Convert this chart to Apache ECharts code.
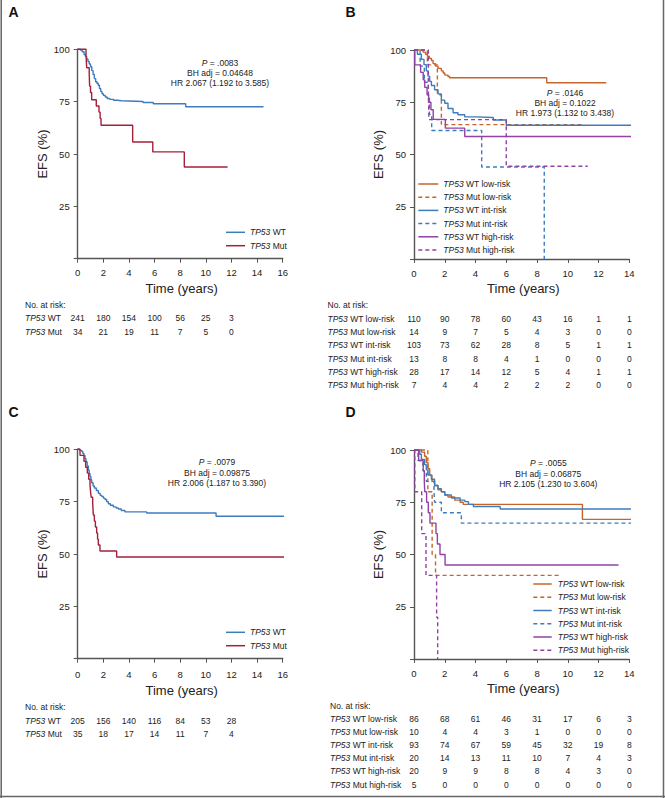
<!DOCTYPE html>
<html><head><meta charset="utf-8">
<script src="https://cdn.jsdelivr.net/npm/echarts@6/dist/echarts.min.js"></script>
<style>html,body{margin:0;padding:0;background:#fff}#c{width:665px;height:798px}</style>
</head><body><div id="c"></div>
<script>
// ---------------- DATA ----------------
const yTicks = [0, 25, 50, 75, 100];
const xTicksLeft = [0, 2, 4, 6, 8, 10, 12, 14, 16];
const xTicksRight = [0, 2, 4, 6, 8, 10, 12, 14];
const riskTimesLeft = [0, 2, 4, 6, 8, 10, 12];
const riskTimesRight = [0, 2, 4, 6, 8, 10, 12, 14];

// Panel A
const A_WT = [[0,100],[0.2,99.6],[0.35,98.8],[0.5,97.5],[0.6,96.6],[0.7,95.4],[0.8,94.2],[0.9,93],[1.0,91.7],[1.1,89.8],[1.2,88],[1.3,86],[1.4,84.5],[1.5,83.8],[1.6,82.8],[1.7,81.2],[1.8,79.8],[1.9,78.8],[2.0,78],[2.15,77.2],[2.3,76.5],[2.5,76.1],[2.8,75.7],[3.1,75.4],[3.4,75.1],[5.1,74.6],[5.9,74.0],[8.43,72.6],[14.5,72.6]];
const A_Mut = [[0,100],[0.65,97],[0.7,91.2],[0.9,88.2],[0.93,82.4],[1.0,79.4],[1.09,75.9],[1.45,72.9],[1.66,70],[1.75,67],[1.82,63.7],[4.29,55.7],[5.86,51],[8.32,43.8],[11.7,43.8]];
const A_risk_WT = [241, 180, 154, 100, 56, 25, 3];
const A_risk_Mut = [34, 21, 19, 11, 7, 5, 0];

// Panel B
const B_WT_low = [[0,100],[0.59,99],[0.75,98],[0.87,97],[1.0,96],[1.13,95],[1.24,93.5],[1.4,92.3],[1.56,91.2],[1.78,90],[1.9,89],[2.0,88],[2.21,87.3],[2.32,86.7],[8.63,84.3],[12.5,84.3]];
const B_Mut_low = [[0,100],[0.87,92.9],[1.52,78.6],[1.78,64.3],[11.0,64.3]];
const B_WT_int = [[0,100],[0.22,98],[0.48,95.5],[0.65,93],[0.8,90],[0.91,87.5],[1.02,85],[1.13,83],[1.34,81],[1.56,79],[1.78,76],[2.0,74.5],[2.21,72],[2.54,70],[2.86,69],[3.3,68],[4.0,67.7],[5.16,66.5],[6.0,64],[14.8,64]];
const B_Mut_int = [[0,100],[0.4,92.3],[0.67,84.6],[0.93,76.9],[1.0,69.2],[1.15,61.5],[4.4,44],[8.47,0]];
const B_WT_high = [[0,100],[0.05,92.9],[0.43,89.3],[0.6,85.7],[0.7,82.1],[0.85,78.6],[0.95,75],[1.1,71.4],[1.25,66.8],[2.04,62.6],[3.3,58.6],[14.7,58.6]];
const B_Mut_high = [[0,100],[0.93,83.3],[0.97,66.7],[6.0,44.4],[11.3,44.4]];
const B_risk = [
  [110, 90, 78, 60, 43, 16, 1, 1],
  [14, 9, 7, 5, 4, 3, 0, 0],
  [103, 73, 62, 28, 8, 5, 1, 1],
  [13, 8, 8, 4, 1, 0, 0, 0],
  [28, 17, 14, 12, 5, 4, 1, 1],
  [7, 4, 4, 2, 2, 2, 0, 0]
];

// Panel C
const C_WT = [[0,100],[0.15,99.5],[0.31,99],[0.4,98],[0.49,97],[0.57,95.5],[0.65,94],[0.74,92],[0.83,90],[0.9,88.5],[0.96,87],[1.03,85.5],[1.09,84],[1.2,82.5],[1.3,81.5],[1.45,80.3],[1.61,79],[1.75,78],[1.87,77.5],[2.0,76.7],[2.13,76],[2.26,75],[2.39,74],[2.55,73.3],[2.78,72.5],[3.0,72],[3.17,71.5],[3.4,70.8],[3.69,70.1],[5.38,69.6],[10.8,68],[16.6,68]];
const C_Mut = [[0,100],[0.18,97.1],[0.49,94.3],[0.62,91.4],[0.75,88.6],[0.86,85.7],[0.96,82.9],[1.0,80],[1.05,77.1],[1.17,74.3],[1.22,68.6],[1.3,65.7],[1.38,62.9],[1.48,60],[1.55,57.1],[1.61,54.3],[1.74,51.4],[3.04,48.6],[16.6,48.6]];
const C_risk_WT = [205, 156, 140, 116, 84, 53, 28];
const C_risk_Mut = [35, 18, 17, 14, 11, 7, 4];

// Panel D
const D_WT_low = [[0,100],[0.48,99],[0.69,97],[0.8,94],[0.91,91],[1.02,88],[1.17,85],[1.34,83],[1.56,81],[1.78,80],[2.0,78.5],[2.21,77.5],[2.65,76],[3.0,75],[3.2,74],[10.95,66.8],[14.4,66.8]];
const D_Mut_low = [[0,100],[0.9,80],[1.18,50],[1.4,40],[9.5,40]];
const D_WT_int = [[0,100],[0.37,98],[0.48,95.5],[0.69,93],[0.8,90.5],[0.91,88],[1.13,86],[1.34,83],[1.56,81.5],[1.78,80],[2.0,78.5],[2.43,77],[3.0,76],[3.3,75.3],[3.54,74],[3.86,73],[5.6,71.8],[14.4,71.8]];
const D_Mut_int = [[0,100],[0.26,95],[0.59,90],[0.8,85],[1.3,80],[1.34,75],[1.78,70],[3.08,65],[15.7,65]];
const D_WT_high = [[0,100],[0.3,95],[0.6,90],[0.67,85],[0.7,80],[0.82,75],[0.93,70],[1.04,65],[1.43,60],[1.52,55],[1.69,50],[2.02,45],[13.3,45]];
const D_Mut_high = [[0,100],[0.05,80],[0.5,60],[0.78,40],[1.47,20],[1.54,0]];
const D_risk = [
  [86, 68, 61, 46, 31, 17, 6, 3],
  [10, 4, 4, 3, 1, 0, 0, 0],
  [93, 74, 67, 59, 45, 32, 19, 8],
  [20, 14, 13, 11, 10, 7, 4, 3],
  [20, 9, 9, 8, 8, 4, 3, 0],
  [5, 0, 0, 0, 0, 0, 0, 0]
];

const twoGroupNames = ['WT', 'Mut'];
const sixGroupNames = ['WT low-risk', 'Mut low-risk', 'WT int-risk', 'Mut int-risk', 'WT high-risk', 'Mut high-risk'];
const statsA = ['.0083', '0.04648', 'HR 2.067 (1.192 to 3.585)'];
const statsB = ['.0146', '0.1022', 'HR 1.973 (1.132 to 3.438)'];
const statsC = ['.0079', '0.09875', 'HR 2.006 (1.187 to 3.390)'];
const statsD = ['.0055', '0.06875', 'HR 2.105 (1.230 to 3.604)'];

// ---------------- STYLE ----------------
const FONT = "'Liberation Sans', Arial, Helvetica, sans-serif";
const BLUE = '#3e7dbd', RED = '#a4213b', ORANGE = '#c6652b', PURPLE = '#9142a4';
const AX = '#555', TXT = '#222';
const DASH = [4, 3];

const grids = [
  {left: 77.7, top: 49.3, width: 205, height: 209.4},
  {left: 414, top: 50, width: 215.3, height: 209},
  {left: 77.7, top: 449.3, width: 205, height: 209.4},
  {left: 414, top: 450, width: 215.3, height: 209}
];
const xMax = [16, 14, 16, 14];
const xLabelMargin = [9, 9, 11, 9];

function xAxisCfg(i) {
  return {gridIndex: i, type: 'value', min: 0, max: xMax[i], interval: 2,
    axisLine: {show: true, onZero: false, lineStyle: {color: AX, width: 1.4}},
    axisTick: {show: true, length: 4, lineStyle: {color: AX, width: 1}},
    axisLabel: {fontSize: 9.5, color: TXT, margin: xLabelMargin[i], fontFamily: FONT},
    splitLine: {show: false}};
}
function yAxisCfg(i) {
  return {gridIndex: i, type: 'value', min: yTicks[0], max: yTicks[yTicks.length-1], interval: 25,
    axisLine: {show: true, onZero: false, lineStyle: {color: AX, width: 1.4}},
    axisTick: {show: true, length: 4, lineStyle: {color: AX, width: 1}},
    axisLabel: {fontSize: 9.5, color: TXT, margin: 8, fontFamily: FONT, formatter: v => v === 0 ? '' : String(v)},
    splitLine: {show: false}};
}
function km(name, data, i, color, dashed) {
  return {type: 'line', name: name, data: data, xAxisIndex: i, yAxisIndex: i, step: 'end',
    symbol: 'none', showSymbol: false, clip: false, silent: true, animation: false,
    lineStyle: {color: color, width: 1.4, type: dashed ? DASH : 'solid'}, itemStyle: {color: color}};
}

const series = [
  km('A WT', A_WT, 0, BLUE, false),
  km('A Mut', A_Mut, 0, RED, false),
  km('B WT low', B_WT_low, 1, ORANGE, false),
  km('B Mut low', B_Mut_low, 1, ORANGE, true),
  km('B WT int', B_WT_int, 1, BLUE, false),
  km('B Mut int', B_Mut_int, 1, BLUE, true),
  km('B WT high', B_WT_high, 1, PURPLE, false),
  km('B Mut high', B_Mut_high, 1, PURPLE, true),
  km('C WT', C_WT, 2, BLUE, false),
  km('C Mut', C_Mut, 2, RED, false),
  km('D WT low', D_WT_low, 3, ORANGE, false),
  km('D Mut low', D_Mut_low, 3, ORANGE, true),
  km('D WT int', D_WT_int, 3, BLUE, false),
  km('D Mut int', D_Mut_int, 3, BLUE, true),
  km('D WT high', D_WT_high, 3, PURPLE, false),
  km('D Mut high', D_Mut_high, 3, PURPLE, true)
];

const chart = echarts.init(document.getElementById('c'), null, {renderer: 'svg', width: 665, height: 798});
chart.setOption({
  animation: false,
  backgroundColor: '#fff',
  grid: grids,
  xAxis: [0,1,2,3].map(xAxisCfg),
  yAxis: [0,1,2,3].map(yAxisCfg),
  series: series
});

// ---------------- TEXT / GRAPHICS ----------------
const G = [];
const FS = 8.5;
function richStyle(size) {
  return {i: {fontStyle: 'italic', fontSize: size, fontFamily: FONT, fill: TXT, color: TXT},
          n: {fontSize: size, fontFamily: FONT, fill: TXT, color: TXT}};
}
function text(x, y, str, opt) {
  opt = opt || {};
  const size = opt.size || FS;
  const st = {text: str, x: 0, y: 0, fontSize: size, fontFamily: FONT, fill: opt.color || TXT,
    fontWeight: opt.weight || 'normal',
    align: opt.align || 'left', textAlign: opt.align || 'left',
    verticalAlign: 'middle', textVerticalAlign: 'middle', rich: richStyle(size)};
  G.push({type: 'text', x: x, y: y, rotation: opt.rot || 0, silent: true, style: st});
}
function line(x1, y1, x2, y2, color, dashed, w) {
  G.push({type: 'line', silent: true, shape: {x1: x1, y1: y1, x2: x2, y2: y2},
    style: {stroke: color, lineWidth: w || 1.5, lineDash: dashed ? DASH : null}});
}

// panel letters
text(13.5, 12, 'A', {size: 14, weight: 'bold', align: 'center', color: '#111'});
text(350.5, 12, 'B', {size: 14, weight: 'bold', align: 'center', color: '#111'});
text(13.5, 412, 'C', {size: 14, weight: 'bold', align: 'center', color: '#111'});
text(350.5, 412, 'D', {size: 14, weight: 'bold', align: 'center', color: '#111'});

// axis titles
const titlePos = [
  {tx: 181.7, ty: 288, ex: 42.3, ey: 154},
  {tx: 523.3, ty: 288.3, ex: 378.3, ey: 154.5},
  {tx: 181.7, ty: 690.7, ex: 42.3, ey: 554},
  {tx: 523.3, ty: 688.7, ex: 378.8, ey: 554.5}
];
titlePos.forEach(p => {
  text(p.tx, p.ty, 'Time (years)', {size: 13, align: 'center'});
  text(p.ex, p.ey, 'EFS (%)', {size: 13, align: 'center', rot: Math.PI / 2});
});

// statistics annotations
function stats(cx, y0, s) {
  text(cx, y0, '{i|P} = ' + s[0], {align: 'center'});
  text(cx, y0 + 10.2, 'BH adj = ' + s[1], {align: 'center'});
  text(cx, y0 + 20.4, s[2], {align: 'center'});
}
stats(220, 62.7, statsA);
stats(565, 92.7, statsB);
stats(217, 462.3, statsC);
stats(548.3, 463.3, statsD);

// legends
function legend2(y0) {
  const cols = [BLUE, RED];
  twoGroupNames.forEach((n, k) => {
    const y = y0 + k * 13.4;
    line(226, y, 245, y, cols[k], false, 1.5);
    text(250, y, '{i|TP53} ' + n);
  });
}
legend2(232.3);
legend2(632.3);
function legend6(x1, x2, tx, y0, dy) {
  const cols = [ORANGE, ORANGE, BLUE, BLUE, PURPLE, PURPLE];
  sixGroupNames.forEach((n, k) => {
    const y = y0 + k * dy;
    line(x1, y, x2, y, cols[k], k % 2 === 1, 1.5);
    text(tx, y, '{i|TP53} ' + n);
  });
}
legend6(418.3, 438.3, 443.3, 184, 13.2);
legend6(533.3, 551.7, 557.7, 584, 13.25);

// risk tables
function riskTable(axisIdx, lx, y0, dy, names, rows, times) {
  text(lx, y0, 'No. at risk:');
  rows.forEach((r, k) => {
    const y = y0 + dy * (k + 1);
    text(lx, y, '{i|TP53} ' + names[k]);
    r.forEach((v, j) => {
      const x = chart.convertToPixel({xAxisIndex: axisIdx}, times[j]);
      text(x, y, String(v), {align: 'center'});
    });
  });
}
riskTable(0, 25, 305, 13.3, twoGroupNames, [A_risk_WT, A_risk_Mut], riskTimesLeft);
riskTable(1, 327.5, 305.3, 13.3, sixGroupNames, B_risk, riskTimesRight);
riskTable(2, 25, 707.3, 13.3, twoGroupNames, [C_risk_WT, C_risk_Mut], riskTimesLeft);
riskTable(3, 330, 705.7, 13.15, sixGroupNames, D_risk, riskTimesRight);

// figure frame
line(1.2, 0, 1.2, 798, '#666', false, 1.5);
line(663.5, 0, 663.5, 798, '#666', false, 1.5);
line(0, 796.5, 665, 796.5, '#666', false, 1.5);

chart.setOption({graphic: {elements: G}});
</script>
</body></html>
